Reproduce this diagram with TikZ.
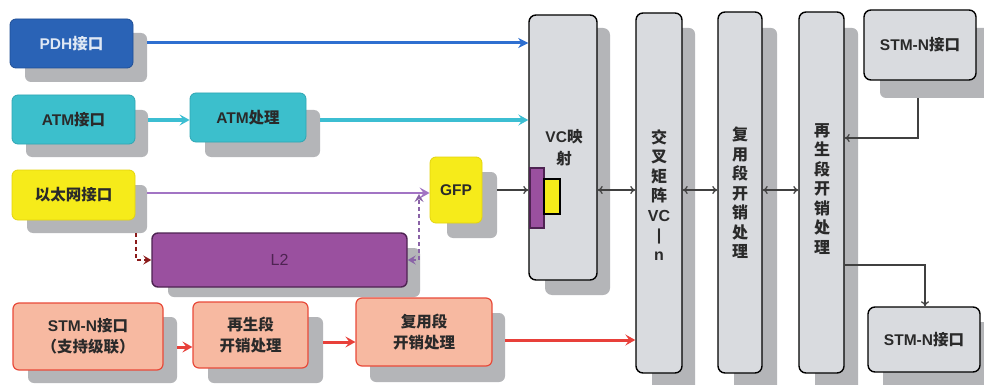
\documentclass[tikz,border=0pt]{standalone}
\usepackage{fontspec}
\setmainfont{Liberation Sans}
\newfontfamily\cjk{Noto Sans CJK SC}
\usetikzlibrary{fit,arrows.meta}
\newcommand\zh[1]{{\cjk #1}}
\definecolor{shd}{HTML}{B4B5B8}
\definecolor{pdhblue}{HTML}{2A63B6}
\definecolor{pdhdark}{HTML}{1E4E96}
\definecolor{atmcyan}{HTML}{3CBFCC}
\definecolor{atmdark}{HTML}{2FA6B3}
\definecolor{eyel}{HTML}{F6EB1A}
\definecolor{eyeld}{HTML}{E3D40E}
\definecolor{l2p}{HTML}{9A509F}
\definecolor{l2d}{HTML}{4E2352}
\definecolor{salm}{HTML}{F7B9A1}
\definecolor{salmd}{HTML}{E84A3A}
\definecolor{colg}{HTML}{D9DBDF}
\definecolor{arrblue}{HTML}{2E6FD0}
\definecolor{arrcyan}{HTML}{3CBED2}
\definecolor{arrpur}{HTML}{A274C4}
\definecolor{arrred}{HTML}{E8403A}
\definecolor{dred}{HTML}{8B1A1A}
\definecolor{txtd}{HTML}{2A2A2A}
\tikzset{
  shadowbox/.style={fill=shd, rounded corners=6pt, inner sep=0pt, draw=none},
  boxbase/.style={rounded corners=6pt, inner sep=0pt, line width=0.8pt},
  pdhbox/.style={boxbase, fill=pdhblue, draw=pdhdark},
  atmbox/.style={boxbase, fill=atmcyan, draw=atmdark},
  ethbox/.style={boxbase, fill=eyel, draw=eyeld},
  l2box/.style={boxbase, fill=l2p, draw=l2d, line width=1.4pt},
  stmbox/.style={boxbase, fill=salm, draw=salmd, line width=1.2pt},
  graybox/.style={boxbase, fill=colg, draw=black, line width=1.4pt, rounded corners=7pt},
  lbl/.style={align=center, font=\fontsize{15.5}{21}\selectfont\bfseries, text=txtd, inner sep=0pt},
  coltxt/.style={align=center, font=\fontsize{16}{19.5}\selectfont\bfseries, text=txtd, inner sep=0pt},
  bluearr/.style={draw=arrblue, line width=3pt, -{Stealth[length=10pt,width=10pt,inset=3pt]}},
  cyanarr/.style={draw=arrcyan, line width=3pt, -{Stealth[length=10pt,width=11pt,inset=4pt]}},
  purarr/.style={draw=arrpur, line width=2.2pt, -{Stealth[length=10pt,width=11pt,inset=4pt]}},
  redarr/.style={draw=arrred, line width=3pt, -{Stealth[length=10pt,width=11pt,inset=4pt]}},
  thinarr/.style={draw=black!75, line width=1.2pt, -{To[length=5pt,width=8pt]}},
  dblarr/.style={draw=black!75, line width=1.2pt, {To[length=5pt,width=8pt]}-{To[length=5pt,width=8pt]}},
  dashy/.style={line width=2.2pt, dash pattern=on 4pt off 3pt},
}
\begin{document}
\begin{tikzpicture}[x=1pt,y=-1pt]
\useasboundingbox (0,0) rectangle (984,385);
\fill[white] (0,0) rectangle (984,385);

% ---- shadows ----
\node[shadowbox, fit={(25,33) (147,82)}] (pdhs) {};
\node[shadowbox, fit={(26,110) (148,157)}] (atms) {};
\node[shadowbox, fit={(205,110) (320,157)}] (atmps) {};
\node[shadowbox, fit={(27,185) (147,233)}] (eths) {};
\node[shadowbox, fit={(447,172) (497,238)}] (gfps) {};
\node[shadowbox, fit={(168,248) (420,297)}] (l2s) {};
\node[shadowbox, fit={(28,317) (177,383)}] (stms) {};
\node[shadowbox, fit={(208,317) (323,383)}] (rgens) {};
\node[shadowbox, fit={(370,313) (505,382)}] (muxs) {};
\node[shadowbox, rounded corners=7pt, fit={(545,28) (610,295)}] (vcs) {};
\node[shadowbox, fit={(652,28) (695,392)}] (crosss) {};
\node[shadowbox, fit={(734,28) (777,392)}] (mcols) {};
\node[shadowbox, fit={(815,28) (858,392)}] (rcols) {};
\node[shadowbox, fit={(880,28) (992,98)}] (stmts) {};
\node[shadowbox, fit={(883,322) (995,392)}] (stmbs) {};

% ---- boxes ----
\node[pdhbox, fit={(10,19) (133,68)}] (pdh) {};
\node[atmbox, fit={(12,95) (135,144)}] (atm) {};
\node[atmbox, fit={(190,93) (306,142)}] (atmp) {};
\node[ethbox, fit={(12,170) (135,220)}] (eth) {};
\node[ethbox, fit={(430,157) (482,223)}] (gfp) {};
\node[l2box, fit={(152,233) (407,287)}] (l2) {};
\node[stmbox, fit={(13,303) (163,370)}] (stm) {};
\node[stmbox, fit={(193,302) (308,368)}] (rgen) {};
\node[stmbox, fit={(356,298) (492,366)}] (mux) {};
\node[graybox, fit={(529,15) (597,280)}] (vc) {};
\node[graybox, fit={(636,13) (682,373)}] (cross) {};
\node[graybox, fit={(718,12) (762,373)}] (mcol) {};
\node[graybox, fit={(799,12) (844,373)}] (rcol) {};
\node[graybox, fit={(864,10) (976,80)}] (stmt) {};
\node[graybox, fit={(868,307) (980,372)}] (stmb) {};

% small marks inside VC box
\node[fill=l2p, draw=l2d, line width=1.2pt, inner sep=0pt, fit={(530,168) (544,228)}] (mk1) {};
\node[fill=eyel, draw=black, line width=1.2pt, inner sep=0pt, fit={(544,179) (560,214)}] (mk2) {};

% ---- labels ----
\node[lbl, text=white!85!pdhblue] (pdht) at (pdh.center) {PDH\zh{接口}};
\node[lbl] (atmt) at (atm.center) {ATM\zh{接口}};
\node[lbl] (atmpt) at (atmp.center) {ATM\zh{处理}};
\node[lbl] (etht) at (eth.center) {\zh{以太网接口}};
\node[lbl] (gfpt) at (gfp.center) {GFP};
\node[lbl, font=\fontsize{16}{19}\selectfont, text=l2d] (l2t) at (l2.center) {L2};
\node[lbl] (stmtx) at (stm.center) {STM-N\zh{接口}\\\zh{（支持级联）}};
\node[lbl] (rgent) at (rgen.center) {\zh{再生段}\\\zh{开销处理}};
\node[lbl] (muxt) at (mux.center) {\zh{复用段}\\\zh{开销处理}};
\node[lbl, font=\fontsize{15.5}{22}\selectfont\bfseries] (vct) at (564,148) {VC\zh{映}\\\zh{射}};
\node[coltxt] (crosst) at (659,195) {\zh{交}\\\zh{叉}\\\zh{矩}\\\zh{阵}\\VC\\|\\n};
\node[coltxt] (mcolt) at (740,193) {\zh{复}\\\zh{用}\\\zh{段}\\\zh{开}\\\zh{销}\\\zh{处}\\\zh{理}};
\node[coltxt] (rcolt) at (822,189) {\zh{再}\\\zh{生}\\\zh{段}\\\zh{开}\\\zh{销}\\\zh{处}\\\zh{理}};
\node[lbl] (stmtt) at (stmt.center) {STM-N\zh{接口}};
\node[lbl] (stmbt) at (stmb.center) {STM-N\zh{接口}};

% ---- connectors ----
\draw[bluearr] (pdhs.east |- 0,43) -- (vc.west |- 0,43);
\draw[cyanarr] (atms.east |- 0,120) -- (atmp.west |- 0,120);
\draw[cyanarr] (atmps.east |- 0,120) -- (vc.west |- 0,120);
\coordinate (jn) at (419,194);
\draw[purarr] (eths.east |- 0,193) -- (gfp.west |- 0,193);
\draw[thinarr] (gfps.east |- 0,190) -- (vc.west |- 0,190);
\draw[draw=dred, dashy, -{Stealth[length=8pt,width=9pt,inset=3pt]}]
  (eths.south -| 136,0) |- (l2.west);
\draw[draw=arrpur!85!black, dashy,
  {Stealth[length=8pt,width=9pt,inset=3pt]}-{Stealth[length=8pt,width=9pt,inset=3pt]}]
  (l2.east) -| (jn);
\draw[redarr] (stms.east |- 0,347) -- (rgen.west |- 0,347);
\draw[redarr] (rgens.east |- 0,342) -- (mux.west |- 0,342);
\draw[redarr] (muxs.east |- 0,340) -- (cross.west |- 0,340);
\draw[dblarr] (vc.east |- 0,190) -- (cross.west |- 0,190);
\draw[dblarr] (cross.east |- 0,190) -- (mcol.west |- 0,190);
\draw[dblarr] (mcol.east |- 0,190) -- (rcol.west |- 0,190);
\draw[thinarr] (stmts.south -| 918,0) |- (rcol.east |- 0,138);
\draw[thinarr] (rcol.east |- 0,265) -| (stmb.north -| 925,0);
\end{tikzpicture}
\end{document}
